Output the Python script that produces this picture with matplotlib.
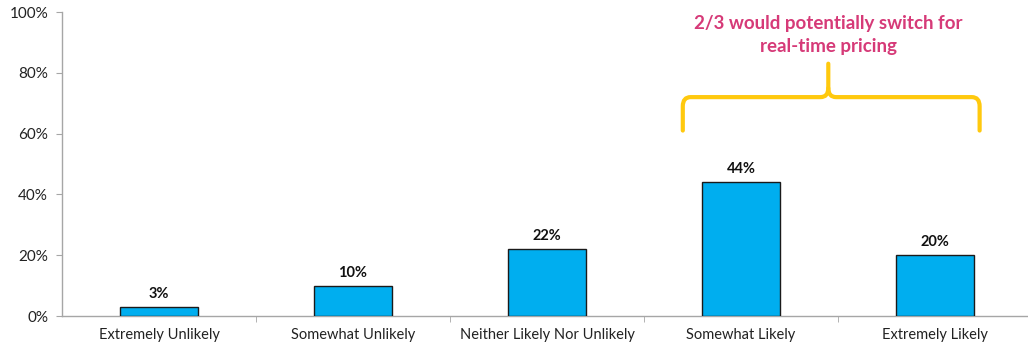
import matplotlib.pyplot as plt
from matplotlib.path import Path
from matplotlib.patches import PathPatch
import numpy as np

categories = ['Extremely Unlikely', 'Somewhat Unlikely', 'Neither Likely Nor Unlikely',
              'Somewhat Likely', 'Extremely Likely']
values = [3, 10, 22, 44, 20]
y_ticks = [0, 20, 40, 60, 80, 100]
note = '2/3 would potentially switch for\nreal-time pricing'

plt.rcParams['font.family'] = ['Lato', 'DejaVu Sans']

fig = plt.figure(figsize=(10.28, 3.46), dpi=100)
ax = fig.add_axes([62 / 1028, 30 / 346, 970 / 1028, 304 / 346])

x = np.arange(len(categories))
ax.bar(x, values, width=0.40, color='#00AEEF', edgecolor='#1a1a1a', linewidth=1.0, zorder=3)

for xi, v in zip(x, values):
    ax.text(xi, v + 2.0, f'{v}%', ha='center', va='bottom', fontsize=10.5,
            fontweight='bold', color='#111111')

ax.set_xlim(-0.5, len(categories) - 0.5)
ax.set_ylim(0, 100)
ax.set_yticks(y_ticks)
ax.set_yticklabels([f'{t}%' for t in y_ticks], fontsize=11, color='#222222')
ax.set_xticks(x)
ax.set_xticklabels(categories, fontsize=10.5, color='#222222')
ax.tick_params(axis='x', which='major', length=0, pad=9)
ax.set_xticks(np.arange(0.5, len(categories) - 0.5, 1), minor=True)
ax.tick_params(axis='x', which='minor', length=4, color='#A6A6A6', direction='out')
ax.tick_params(axis='y', length=4, color='#A6A6A6', direction='out', pad=6)

for s in ['top', 'right']:
    ax.spines[s].set_visible(False)
for s in ['left', 'bottom']:
    ax.spines[s].set_color('#A6A6A6')
    ax.spines[s].set_linewidth(1.0)

# curly brace over the two "likely" bars
xl, xr, xm = 2.70, 4.23, 3.45
y0, yb, yt = 61, 72, 83
dx = 0.04
verts = [
    (xl, y0), (xl, yb - 3), (xl, yb), (xl + dx, yb),
    (xm - dx, yb), (xm, yb), (xm, yb + 3),
    (xm, yt),
]
codes = [Path.MOVETO, Path.LINETO, Path.CURVE3, Path.CURVE3,
         Path.LINETO, Path.CURVE3, Path.CURVE3, Path.LINETO]
verts2 = [
    (xr, y0), (xr, yb - 3), (xr, yb), (xr - dx, yb),
    (xm + dx, yb), (xm, yb), (xm, yb + 3),
]
codes2 = [Path.MOVETO, Path.LINETO, Path.CURVE3, Path.CURVE3,
          Path.LINETO, Path.CURVE3, Path.CURVE3]
for vv, cc in [(verts, codes), (verts2, codes2)]:
    ax.add_patch(PathPatch(Path(vv, cc), facecolor='none', edgecolor='#FFC90E',
                           linewidth=3, capstyle='round', joinstyle='round',
                           clip_on=False, zorder=4))

ax.text(xm, 92.5, note, ha='center', va='center', fontsize=13.5, fontweight='bold',
        color='#D63A78', linespacing=1.4)

fig.savefig('out.png', dpi=100)
